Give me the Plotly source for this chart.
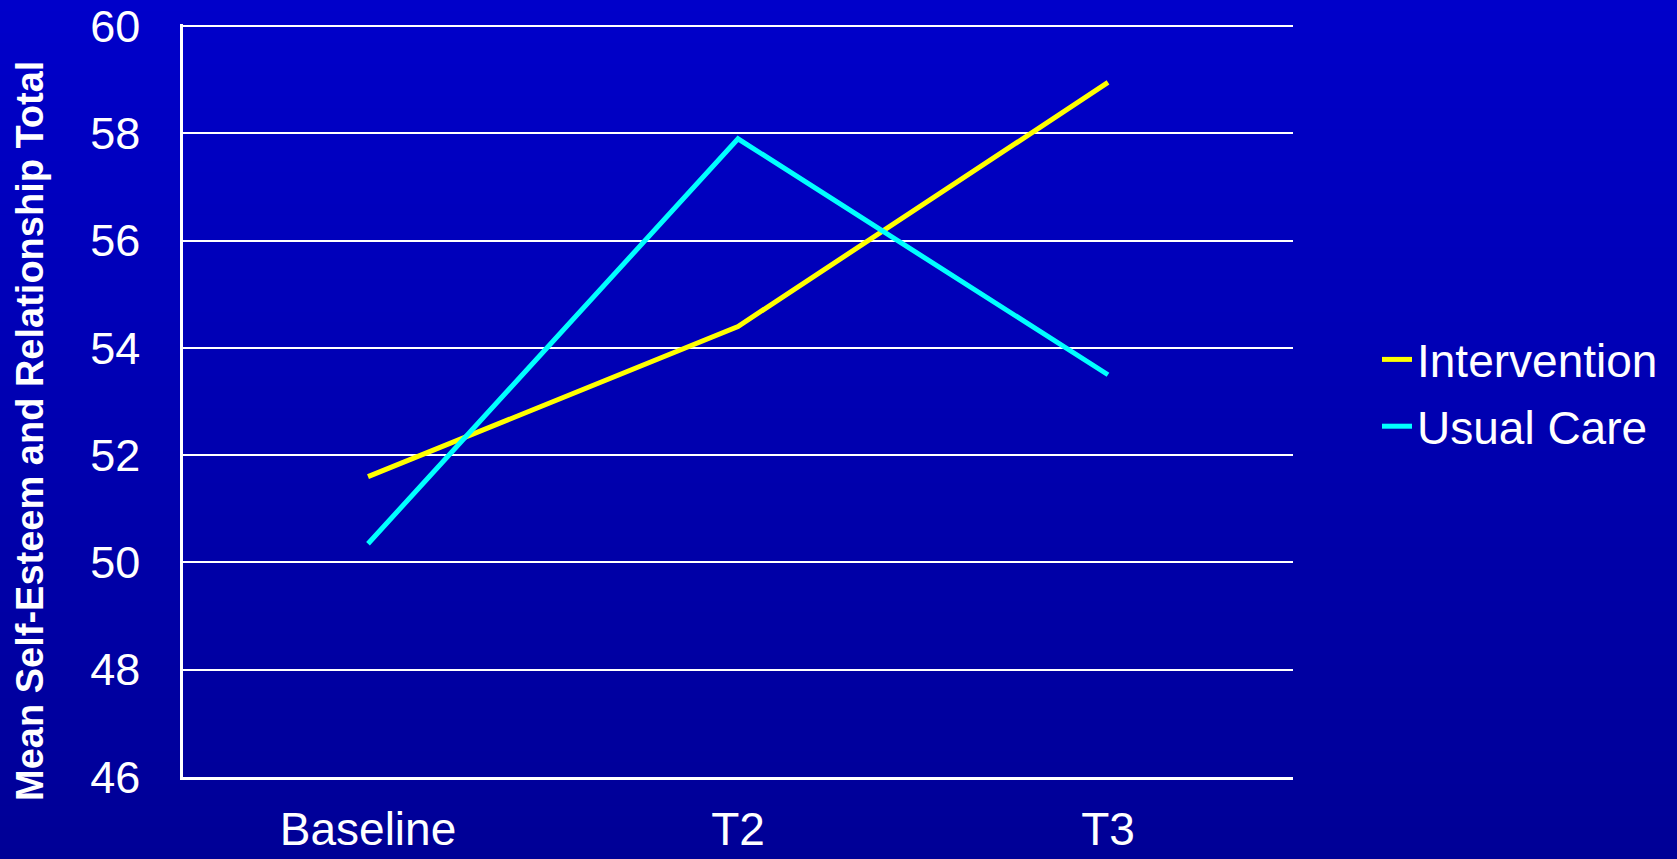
import plotly.graph_objects as go

categories = ["Baseline", "T2", "T3"]
intervention = [51.6, 54.4, 58.95]
usual_care = [50.35, 57.9, 53.5]
y_ticks = [46, 48, 50, 52, 54, 56, 58, 60]

W, H = 1677, 859
L, R, T, B = 183, 384, 24, 82

fig = go.Figure()
fig.add_trace(go.Scatter(x=categories, y=intervention, mode="lines", name="Intervention",
                         legendgroup="a", line=dict(color="#FFFF00", width=5)))
fig.add_trace(go.Scatter(x=categories, y=usual_care, mode="lines", name="Usual Care",
                         legendgroup="b", line=dict(color="#00FFFF", width=5)))

# vertical background gradient
pw, ph = W - L - R, H - T - B
n = 80
shapes = []
for i in range(n):
    f = i / (n - 1)
    b = round(202 - (202 - 150) * f)
    y_top_px = i * H / n
    y_bot_px = (i + 1) * H / n + 1
    shapes.append(dict(type="rect", xref="paper", yref="paper", layer="below",
                       x0=-L / pw - 0.01, x1=(W - L) / pw + 0.01,
                       y0=(H - B - y_bot_px) / ph, y1=(H - B - y_top_px) / ph,
                       line=dict(width=0), fillcolor=f"rgb(0,0,{b})"))

fig.update_layout(
    width=W, height=H,
    margin=dict(l=L, r=R, t=T, b=B, pad=0),
    paper_bgcolor="rgb(0,0,176)",
    plot_bgcolor="rgba(0,0,0,0)",
    font=dict(family="Liberation Sans, Arial, sans-serif", color="white", size=46),
    shapes=shapes,
    showlegend=True,
    legend=dict(x=(1377 - L) / pw, xanchor="left", y=(H - B - 393) / ph, yanchor="middle",
                bgcolor="rgba(0,0,0,0)", font=dict(size=46, color="white"),
                tracegroupgap=4, itemsizing="constant"),
    xaxis=dict(type="category", range=[-0.5, 2.5], showgrid=False, showline=True,
               linecolor="white", linewidth=3, ticks="", ticklabelstandoff=10,
               tickfont=dict(size=46, color="white"), zeroline=False, fixedrange=True,
               automargin=False),
    yaxis=dict(range=[46, 60.04], tickvals=y_ticks, showgrid=True, gridcolor="white",
               gridwidth=1.5, showline=True, linecolor="white", linewidth=2.5,
               ticks="", ticklabelstandoff=31, zeroline=False, automargin=False,
               tickfont=dict(size=45, color="white")),
    annotations=[dict(text="<b>Mean Self-Esteem and Relationship Total</b>",
                      textangle=-90, xref="paper", yref="paper",
                      x=(30 - L) / pw, y=(H - B - 431) / ph,
                      xanchor="center", yanchor="middle", showarrow=False,
                      font=dict(size=38, color="white"))],
)

fig.write_html("out.html")
